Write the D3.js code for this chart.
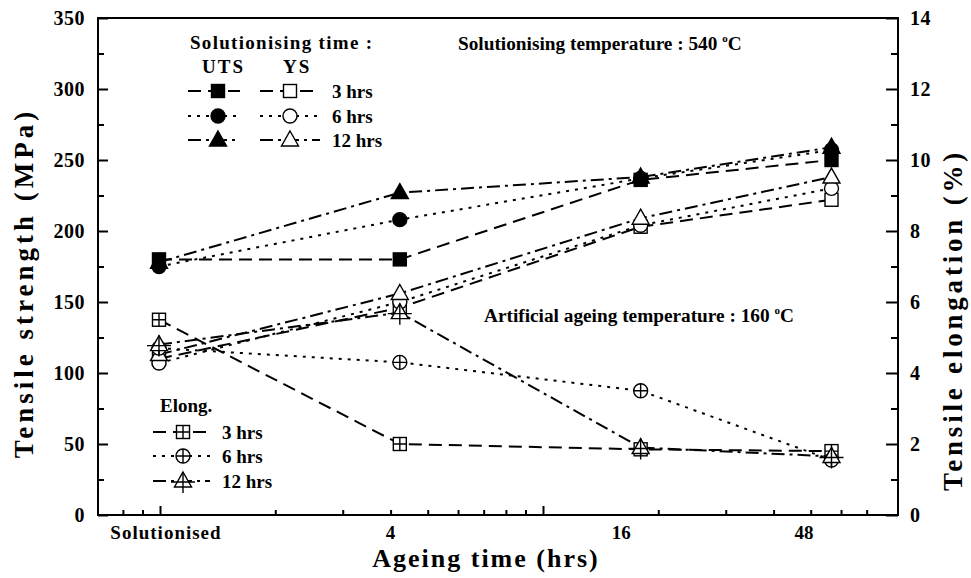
<!DOCTYPE html>
<html>
<head>
<meta charset="utf-8">
<script src="https://cdn.jsdelivr.net/npm/d3@7"></script>
<style>
  body { margin: 0; background: #fff; }
  svg text { font-family: "Liberation Serif", "Times New Roman", serif; font-weight: bold; fill: #000; }
</style>
</head>
<body>
<svg id="chart" width="971" height="578"></svg>
<script>
// ageing time categories (Solutionised drawn at 1 h on the log axis)
var categories = ['Solutionised', '4', '16', '48'];
var ageHours = [1, 4, 16, 48];

// tensile strength (MPa), left axis
var uts3 = [180, 180, 236, 250];
var uts6 = [175, 208, 237, 257];
var uts12 = [178, 227, 238, 259];
var ys3 = [110, 146, 203, 222];
var ys6 = [107, 150, 204, 230];
var ys12 = [113, 156, 209, 238];

// elongation (%), right axis
var el3 = [5.5, 2.0, 1.85, 1.8];
var el6 = [4.7, 4.3, 3.5, 1.55];
var el12 = [4.8, 5.7, 1.9, 1.65];

// axis ticks
var leftTicks = d3.range(0, 351, 25);
var rightTicks = d3.range(0, 15, 1);
var xMinorTicks = [0.8, 0.9, 2, 3, 4, 5, 6, 7, 8, 9, 20, 30, 40, 50, 60, 70];
var xMajorTicks = [1, 10];
var xLabelValues = [1, 4, 16, 48];

var width = 971, height = 578;
var margin = {top: 18, right: 73, bottom: 63, left: 98};

var svg = d3.select('#chart');

// scales
var yL = d3.scaleLinear().domain([0, 350]).range([height - margin.bottom, margin.top]);
var yR = d3.scaleLinear().domain([0, 14]).range([height - margin.bottom, margin.top]);
// the original figure places its tick marks and its data on slightly different log spacings
var xAxisScale = d3.scaleLog().domain([1, 10]).range([160, 543]);
var xData = d3.scaleLog().domain([1, 10]).range([159, 559]);

var x0 = margin.left, x1 = width - margin.right, yBottom = height - margin.bottom;

// dash styles per solutionising time
var dash = {'3': '13,7', '6': '3,6', '12': '13,5,3,5'};

// frame
svg.append('rect')
  .attr('x', x0).attr('y', margin.top)
  .attr('width', x1 - x0).attr('height', yBottom - margin.top)
  .attr('fill', 'none').attr('stroke', '#000').attr('stroke-width', 2);

// left axis
var leftAxis = d3.axisLeft(yL).tickValues(leftTicks).tickSize(-6).tickPadding(13)
  .tickFormat(function(d) { return d % 50 === 0 ? d : ''; });
var gL = svg.append('g').attr('transform', 'translate(' + x0 + ',0)').call(leftAxis);
gL.selectAll('.tick line').filter(function(d) { return d % 50 === 0; }).attr('x2', 10);

// right axis
var rightAxis = d3.axisRight(yR).tickValues(rightTicks).tickSize(-7).tickPadding(12)
  .tickFormat(function(d) { return d % 2 === 0 ? d : ''; });
var gR = svg.append('g').attr('transform', 'translate(' + x1 + ',0)').call(rightAxis);
gR.selectAll('.tick line').filter(function(d) { return d % 2 === 0; }).attr('x2', -12);

// bottom axis
var bottomAxis = d3.axisBottom(xAxisScale).tickValues(xMinorTicks.concat(xMajorTicks))
  .tickSize(-5).tickFormat('');
var gB = svg.append('g').attr('transform', 'translate(0,' + yBottom + ')').call(bottomAxis);
gB.selectAll('.tick line').filter(function(d) { return xMajorTicks.indexOf(d) >= 0; }).attr('y2', -9);

[gL, gR, gB].forEach(function(g) {
  g.select('.domain').remove();
  g.selectAll('.tick line').attr('stroke', '#000').attr('stroke-width', 2);
  g.selectAll('.tick text').style('font-family', '"Liberation Serif", serif')
    .style('font-weight', 'bold').style('font-size', '20px').style('letter-spacing', '0.5px')
    .attr('fill', '#000');
});

svg.append('g').selectAll('text').data(xLabelValues).enter().append('text')
  .attr('x', function(d, i) { return xAxisScale(d) + (i === 0 ? 6 : 0); })
  .attr('y', 539)
  .attr('text-anchor', 'middle')
  .style('font-size', '19px')
  .style('letter-spacing', function(d, i) { return i === 0 ? '1px' : '0px'; })
  .text(function(d, i) { return categories[i]; });

// axis titles
svg.append('text')
  .attr('transform', 'translate(33,283) rotate(-90)')
  .attr('text-anchor', 'middle').style('font-size', '27px').style('letter-spacing', '4px')
  .text('Tensile strength (MPa)');
svg.append('text')
  .attr('transform', 'translate(962,320) rotate(-90)')
  .attr('text-anchor', 'middle').style('font-size', '27px').style('letter-spacing', '3.8px')
  .text('Tensile elongation (%)');
svg.append('text')
  .attr('x', 486).attr('y', 567)
  .attr('text-anchor', 'middle').style('font-size', '26px').style('letter-spacing', '2px')
  .text('Ageing time (hrs)');

// marker drawing
function marker(g, shape, cx, cy, filled, cross) {
  var fill = filled ? '#000' : '#fff';
  var sw = 1.4;
  if (shape === 'square') {
    g.append('rect').attr('x', cx - 6.5).attr('y', cy - 6.5).attr('width', 13).attr('height', 13)
      .attr('fill', fill).attr('stroke', '#000').attr('stroke-width', sw);
    if (cross) {
      g.append('path').attr('d', 'M' + (cx - 6.5) + ',' + cy + 'H' + (cx + 6.5) + 'M' + cx + ',' + (cy - 6.5) + 'V' + (cy + 6.5))
        .attr('stroke', '#000').attr('stroke-width', sw);
    }
  } else if (shape === 'circle') {
    g.append('circle').attr('cx', cx).attr('cy', cy).attr('r', 7)
      .attr('fill', fill).attr('stroke', '#000').attr('stroke-width', sw);
    if (cross) {
      g.append('path').attr('d', 'M' + (cx - 7) + ',' + cy + 'H' + (cx + 7) + 'M' + cx + ',' + (cy - 7) + 'V' + (cy + 7))
        .attr('stroke', '#000').attr('stroke-width', sw);
    }
  } else {
    var h = 15, w = 17;
    g.append('path')
      .attr('d', 'M' + cx + ',' + (cy - h * 0.6) + 'L' + (cx + w / 2) + ',' + (cy + h * 0.4) + 'L' + (cx - w / 2) + ',' + (cy + h * 0.4) + 'Z')
      .attr('fill', fill).attr('stroke', '#000').attr('stroke-width', sw);
    if (cross) {
      g.append('path').attr('d', 'M' + (cx - 12) + ',' + (cy + 1) + 'H' + (cx + 12) + 'M' + cx + ',' + (cy - h * 0.6) + 'V' + (cy + 12))
        .attr('stroke', '#000').attr('stroke-width', sw);
    }
  }
}

var series = [
  {vals: uts3, y: yL, dash: dash['3'], shape: 'square', filled: true, cross: false},
  {vals: uts6, y: yL, dash: dash['6'], shape: 'circle', filled: true, cross: false},
  {vals: uts12, y: yL, dash: dash['12'], shape: 'triangle', filled: true, cross: false},
  {vals: ys3, y: yL, dash: dash['3'], shape: 'square', filled: false, cross: false},
  {vals: ys6, y: yL, dash: dash['6'], shape: 'circle', filled: false, cross: false},
  {vals: ys12, y: yL, dash: dash['12'], shape: 'triangle', filled: false, cross: false},
  {vals: el3, y: yR, dash: dash['3'], shape: 'square', filled: false, cross: true},
  {vals: el6, y: yR, dash: dash['6'], shape: 'circle', filled: false, cross: true},
  {vals: el12, y: yR, dash: dash['12'], shape: 'triangle', filled: false, cross: true}
];

var linesG = svg.append('g');
var marksG = svg.append('g');

series.forEach(function(s) {
  var line = d3.line()
    .x(function(d, i) { return xData(ageHours[i]); })
    .y(function(d) { return s.y(d); });
  linesG.append('path').datum(s.vals)
    .attr('d', line)
    .attr('fill', 'none').attr('stroke', '#000').attr('stroke-width', 2)
    .attr('stroke-dasharray', s.dash);
});
series.forEach(function(s) {
  s.vals.forEach(function(v, i) {
    marker(marksG, s.shape, xData(ageHours[i]), s.y(v), s.filled, s.cross);
  });
});

// legend: strength
var lg = svg.append('g');
lg.append('text').attr('x', 190).attr('y', 49).style('font-size', '19px').style('letter-spacing', '1.3px')
  .text('Solutionising time :');
lg.append('text').attr('x', 202).attr('y', 73).style('font-size', '19px').style('letter-spacing', '2px').text('UTS');
lg.append('text').attr('x', 283).attr('y', 73).style('font-size', '19px').style('letter-spacing', '2px').text('YS');

var legRows = [
  {label: '3 hrs', dash: dash['3'], shape: 'square', y: 91},
  {label: '6 hrs', dash: dash['6'], shape: 'circle', y: 116},
  {label: '12 hrs', dash: dash['12'], shape: 'triangle', y: 140}
];
legRows.forEach(function(r) {
  lg.append('line').attr('x1', 188).attr('x2', 240).attr('y1', r.y).attr('y2', r.y)
    .attr('stroke', '#000').attr('stroke-width', 2).attr('stroke-dasharray', r.dash);
  lg.append('line').attr('x1', 260).attr('x2', 320).attr('y1', r.y).attr('y2', r.y)
    .attr('stroke', '#000').attr('stroke-width', 2).attr('stroke-dasharray', r.dash);
  marker(lg, r.shape, 218, r.y, true, false);
  marker(lg, r.shape, 290, r.y, false, false);
  lg.append('text').attr('x', 332).attr('y', r.y + 7).style('font-size', '19px').text(r.label);
});

// legend: elongation
var eg = svg.append('g');
eg.append('text').attr('x', 160).attr('y', 412).style('font-size', '19px').text('Elong.');
var elRows = [
  {label: '3 hrs', dash: dash['3'], shape: 'square', y: 432},
  {label: '6 hrs', dash: dash['6'], shape: 'circle', y: 456},
  {label: '12 hrs', dash: dash['12'], shape: 'triangle', y: 481}
];
elRows.forEach(function(r) {
  eg.append('line').attr('x1', 153).attr('x2', 210).attr('y1', r.y).attr('y2', r.y)
    .attr('stroke', '#000').attr('stroke-width', 2).attr('stroke-dasharray', r.dash);
  marker(eg, r.shape, 183, r.y, false, true);
  eg.append('text').attr('x', 222).attr('y', r.y + 7).style('font-size', '19px').text(r.label);
});

// annotations
var t1 = svg.append('text').attr('x', 458).attr('y', 50).style('font-size', '19.3px');
t1.append('tspan').text('Solutionising temperature : 540 ');
t1.append('tspan').attr('dy', -8).style('font-size', '11px').text('o');
t1.append('tspan').attr('dy', 8).text('C');

var t2 = svg.append('text').attr('x', 484).attr('y', 322).style('font-size', '19.3px');
t2.append('tspan').text('Artificial ageing temperature : 160 ');
t2.append('tspan').attr('dy', -8).style('font-size', '11px').text('o');
t2.append('tspan').attr('dy', 8).text('C');
</script>
</body>
</html>
